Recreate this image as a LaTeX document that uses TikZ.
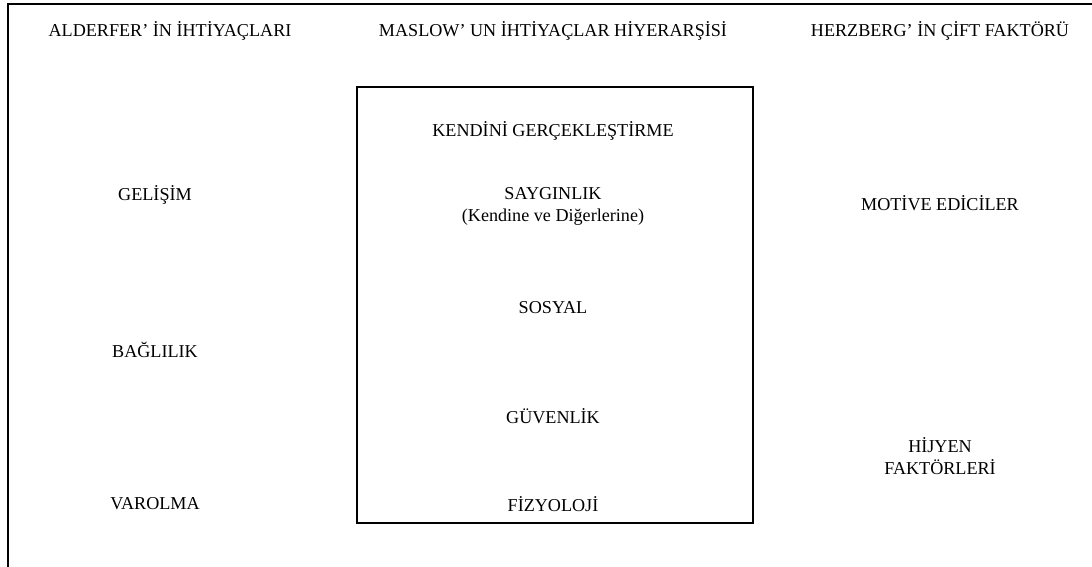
\documentclass[tikz,border=0pt]{standalone}
\usepackage{fontspec}
\setmainfont{Liberation Serif}
\begin{document}
\begin{tikzpicture}[x=0.75pt,y=-0.75pt,
  lbl/.style={font=\fontsize{13.6}{16.5}\selectfont,align=center,inner sep=0pt},
  frame/.style={draw=black,line width=1.7pt}]
\useasboundingbox (0,0) rectangle (1092,567);
% outer corner frame (top and left edges)
\coordinate (tl) at (8,4);
\coordinate (tr) at (1092,4);
\coordinate (bl) at (8,567);
\draw[frame,line cap=rect] (tr) -- (tl) -- (bl);
% Maslow box
\draw[frame] (357,87) rectangle (753,523);
% column headers
\node[lbl] (hA) at (170,31) {ALDERFER’ İN İHTİYAÇLARI};
\node[lbl] (hM) at (553,31) {MASLOW’ UN İHTİYAÇLAR HİYERARŞİSİ};
\node[lbl] (hH) at (940,31) {HERZBERG’ İN ÇİFT FAKTÖRÜ};
% Alderfer
\node[lbl] (a1) at (155,195) {GELİŞİM};
\node[lbl] (a2) at (155,350) {BAĞLILIK};
\node[lbl] (a3) at (155,504) {VAROLMA};
% Maslow
\node[lbl] (m1) at (553,131) {KENDİNİ GERÇEKLEŞTİRME};
\node[lbl] (m2) at (553,206) {SAYGINLIK\\(Kendine ve Diğerlerine)};
\node[lbl] (m3) at (553,308) {SOSYAL};
\node[lbl] (m4) at (553,416) {GÜVENLİK};
\node[lbl] (m5) at (553,504) {FİZYOLOJİ};
% Herzberg
\node[lbl] (h1) at (940,203) {MOTİVE EDİCİLER};
\node[lbl] (h2) at (940,456) {HİJYEN\\FAKTÖRLERİ};
\end{tikzpicture}
\end{document}
